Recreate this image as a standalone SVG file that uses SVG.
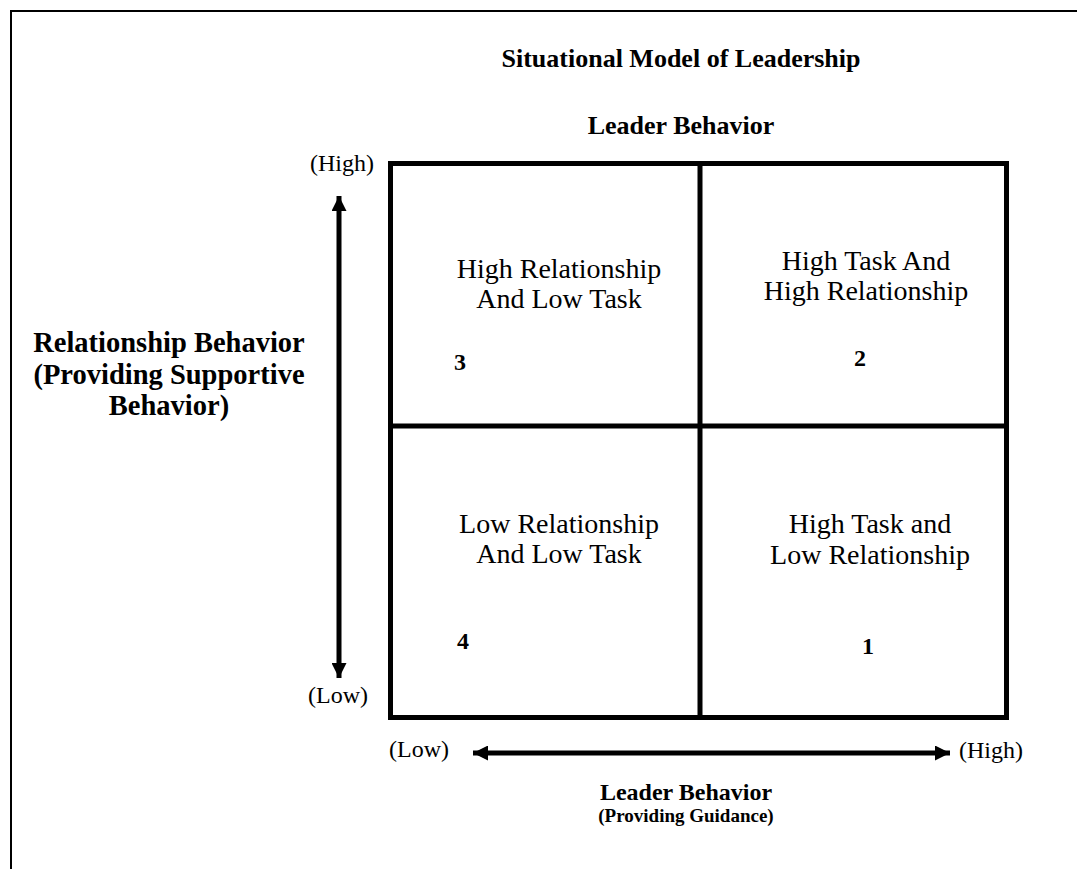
<svg xmlns="http://www.w3.org/2000/svg" width="1077" height="869" viewBox="0 0 1077 869">
<style>
text{font-family:"Liberation Serif","Times New Roman",serif;fill:#000}
.b{font-weight:bold}
.t{font-size:26px;font-weight:bold}
.cell{font-size:28px}
.num{font-size:24px;font-weight:bold}
.ax{font-size:24px}
.side{font-size:28.5px;font-weight:bold}
.line{stroke:#000;fill:none}
</style>
<defs>
<marker id="ah" viewBox="0 0 10 10" refX="10" refY="5" markerWidth="3" markerHeight="3" orient="auto-start-reverse" markerUnits="strokeWidth">
<path d="M0,0 L10,5 L0,10 z" fill="#000"/>
</marker>
</defs>
<g id="frame">
<path d="M11,869 V11 H1077" class="line" stroke-width="2"/>
</g>
<g id="titles" text-anchor="middle">
<text class="t" x="681" y="67">Situational Model of Leadership</text>
<text class="t" x="681" y="134" font-size="28">Leader Behavior</text>
<text class="b" x="686" y="800" font-size="24">Leader Behavior</text>
<text class="b" x="686" y="822" font-size="19">(Providing Guidance)</text>
<text class="side" x="169" y="352">Relationship Behavior</text>
<text class="side" x="169" y="384">(Providing Supportive</text>
<text class="side" x="169" y="415">Behavior)</text>
</g>
<g id="grid">
<rect x="390.5" y="163.5" width="616" height="554" class="line" stroke-width="5"/>
<line x1="700" y1="163" x2="700" y2="718" class="line" stroke-width="5"/>
<line x1="390" y1="426" x2="1007" y2="426" class="line" stroke-width="5"/>
</g>
<g id="q3" text-anchor="middle">
<text class="cell" x="559" y="278">High Relationship</text>
<text class="cell" x="559" y="308">And Low Task</text>
<text class="num" x="460" y="370">3</text>
</g>
<g id="q2" text-anchor="middle">
<text class="cell" x="866" y="270">High Task And</text>
<text class="cell" x="866" y="300">High Relationship</text>
<text class="num" x="860" y="366">2</text>
</g>
<g id="q4" text-anchor="middle">
<text class="cell" x="559" y="533">Low Relationship</text>
<text class="cell" x="559" y="563">And Low Task</text>
<text class="num" x="463" y="649">4</text>
</g>
<g id="q1" text-anchor="middle">
<text class="cell" x="870" y="533">High Task and</text>
<text class="cell" x="870" y="564">Low Relationship</text>
<text class="num" x="868" y="654">1</text>
</g>
<g id="axis-labels">
<text class="ax" x="374" y="171" text-anchor="end">(High)</text>
<text class="ax" x="368" y="703" text-anchor="end">(Low)</text>
<text class="ax" x="389" y="757">(Low)</text>
<text class="ax" x="959" y="758">(High)</text>
</g>
<g id="connectors">
<line x1="339" y1="196" x2="339" y2="678" class="line" stroke-width="5" marker-start="url(#ah)" marker-end="url(#ah)"/>
<line x1="473" y1="753" x2="950" y2="753" class="line" stroke-width="5" marker-start="url(#ah)" marker-end="url(#ah)"/>
</g>
</svg>
